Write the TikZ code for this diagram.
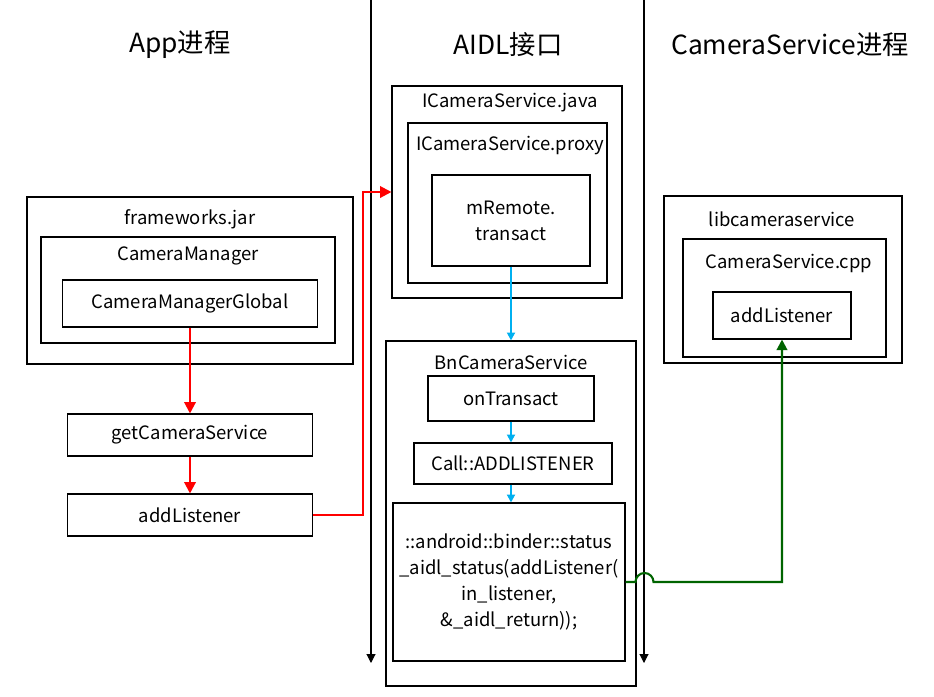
\documentclass[tikz,border=0pt]{standalone}
\usepackage{fontspec}
\setmainfont{Noto Sans CJK SC}
\usetikzlibrary{positioning, arrows.meta, fit}
\definecolor{callblue}{RGB}{0,176,240}
\definecolor{callgreen}{RGB}{0,100,0}
\tikzset{
  box1/.style = {
    shape = rectangle,
    draw = black,
    line width = 0.6pt,
    align = center,
    inner sep = 0pt,
    font = \fontsize{10.5}{14.8}\selectfont,
  }
}
\tikzset{
  frame1/.style = {
    shape = rectangle,
    draw = black,
    line width = 0.6pt,
    inner sep = 0pt,
  }
}
\tikzset{
  title1/.style = {
    font = \fontsize{10.5}{14.8}\selectfont,
  }
}
\tikzset{
  head1/.style = {
    font = \fontsize{15}{18}\selectfont,
  }
}
\tikzset{
  arrow1/.style = {
    draw = red, line width = 1.2pt, -{Triangle[length = 6.5pt, width = 6.5pt]},
  }
}
\tikzset{
  arrow2/.style = {
    draw = callblue, line width = 1.1pt, -{Triangle[length = 4.5pt, width = 4.5pt]},
  }
}
\tikzset{
  arrow3/.style = {
    draw = callgreen, line width = 1.2pt, -{Triangle[length = 6pt, width = 6pt]},
  }
}
\tikzset{
  arrow4/.style = {
    draw = black, line width = 0.6pt, -{Triangle[length = 5pt, width = 5pt]},
  }
}
\begin{document}
\begin{tikzpicture}[x = 0.02cm, y = -0.02cm]
        \useasboundingbox (0,0) rectangle (934,697);
        % process headings
        \node[head1](h1) at (180,45){App进程};
        \node[head1](h2) at (508,45){AIDL接口};
        \node[head1](h3) at (790,45){CameraService进程};
        % process borders
        \coordinate (t1) at (371,0);
        \coordinate (b1) at (371,663);
        \coordinate (t2) at (644,0);
        \coordinate (b2) at (644,663);
        \draw[arrow4](t1) -- (b1);
        \draw[arrow4](t2) -- (b2);
        % app side
        \node[frame1, fit = {(27,197) (353,364)}](jar){};
        \node[title1](jart) at (190,219){frameworks.jar};
        \node[frame1, fit = {(41,237) (335,343)}](mgr){};
        \node[title1](mgrt) at (188,256){CameraManager};
        \node[box1, minimum width = 5.1cm, minimum height = 0.94cm](glob) at (190,303.5){CameraManagerGlobal};
        \node[box1, minimum width = 4.9cm, minimum height = 0.84cm](get) at (190,435){getCameraService};
        \node[box1, minimum width = 4.9cm, minimum height = 0.84cm](add1) at (190,515){addListener};
        % aidl side
        \node[frame1, fit = {(392,86) (622,298)}](java){};
        \node[title1](javat) at (510,103){ICameraService.java};
        \node[frame1, fit = {(408,123) (607,283)}](proxy){};
        \node[title1](proxyt) at (510,146){ICameraService.proxy};
        \node[box1, minimum width = 3.16cm, minimum height = 1.82cm](remote) at (511,220.5){mRemote.\\transact};
        \node[frame1, fit = {(386,341) (636,686)}](bn){};
        \node[title1](bnt) at (511,362){BnCameraService};
        \node[box1, minimum width = 3.32cm, minimum height = 0.9cm](ontr) at (511,398.5){onTransact};
        \node[box1, minimum width = 3.96cm, minimum height = 0.82cm](call) at (513,463.5){Call::ADDLISTENER};
        \node[box1, minimum width = 4.64cm, minimum height = 3.16cm](code) at (509,582){::android::binder::status\\\_aidl\_status(addListener(\\in\_listener,\\\&\_aidl\_return));};
        % service side
        \node[frame1, fit = {(664,196) (902,363)}](lib){};
        \node[title1](libt) at (782,219){libcameraservice};
        \node[frame1, fit = {(683,239) (886,357)}](cpp){};
        \node[title1](cppt) at (789,263){CameraService.cpp};
        \node[box1, minimum width = 2.76cm, minimum height = 0.94cm](add2) at (782,315.5){addListener};
        % calls
        \draw[arrow1](glob) -- (get);
        \draw[arrow1](get) -- (add1);
        \draw[arrow1](add1.east) -- ++(50,0) |- (java.west);
        \draw[arrow2](remote) -- (bn);
        \draw[arrow2](ontr.south) -- (ontr.south |- call.north);
        \draw[arrow2](ontr.south |- call.south) -- (ontr.south |- code.north);
        \draw[arrow3](code.east) -- ++(10,0) arc[start angle = 180, end angle = 0, radius = 0.18cm] -| (add2.south);
    \end{tikzpicture}
\end{document}
